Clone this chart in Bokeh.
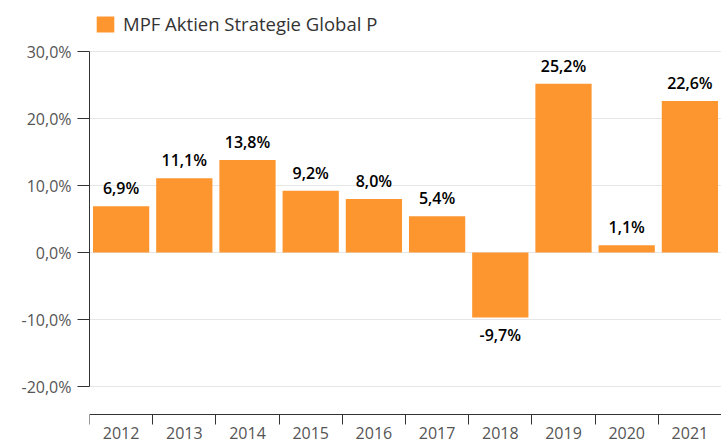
from bokeh.plotting import figure
from bokeh.models import (ColumnDataSource, Range1d, FixedTicker, Legend, LegendItem,
                          CustomJSTickFormatter, LinearAxis)
from bokeh.core.properties import value
from bokeh.embed import file_html
from bokeh.resources import INLINE

# ---- data ----
years = ["2012", "2013", "2014", "2015", "2016", "2017", "2018", "2019", "2020", "2021"]
returns = [6.9, 11.1, 13.8, 9.2, 8.0, 5.4, -9.7, 25.2, 1.1, 22.6]
y_ticks = [-20, -10, 0, 10, 20, 30]
y_tick_labels = ["-20,0%", "-10,0%", "0,0%", "10,0%", "20,0%", "30,0%"]
series_name = "MPF Aktien Strategie Global P"

# ---- derived ----
n = len(years)
centers = [i + 0.5 for i in range(n)]
labels = [f"{v:.1f}%".replace(".", ",") for v in returns]
offsets = [-18 if v >= 0 else 18 for v in returns]
src = ColumnDataSource(dict(x=centers, top=returns, label=labels, off=offsets))

# ---- layout (pixels) ----
W, H = 721, 442
frame_top, frame_bottom = 0, H
axis_px = 414
px_per_unit = 6.7
zero_px = 252
y_end = (zero_px - frame_top) / px_per_unit
y_start = -(frame_bottom - zero_px) / px_per_unit
x_axis_at = -(axis_px - zero_px) / px_per_unit

p = figure(width=W, height=H, x_range=Range1d(0, n), y_range=Range1d(y_start, y_end),
           output_backend="svg", toolbar_location=None, x_axis_location=None,
           min_border_left=89, min_border_right=0, min_border_top=0,
           min_border_bottom=0)
p.outline_line_color = None
p.background_fill_color = "white"
p.border_fill_color = "white"
for g in p.xgrid:
    g.visible = False

bars = p.vbar(x="x", top="top", bottom=0, width=0.89, source=src,
              fill_color="#fe9630", line_color=None)

p.text(x="x", y="top", text="label", source=src, y_offset="off",
       text_align="center", text_baseline="middle",
       text_font=value("'Open Sans SemiBold', 'Open Sans Semibold', 'Open Sans'"),
       text_font_size="16px", text_color="#000000")

# x axis at a fixed location inside the frame, ticks at category boundaries
xa = LinearAxis(fixed_location=x_axis_at)
xa.ticker = FixedTicker(ticks=centers, minor_ticks=list(range(n + 1)))
xa.formatter = CustomJSTickFormatter(args=dict(year_labels=years),
                                     code="return year_labels[Math.floor(tick)];")
xa.major_tick_out = 0
xa.major_tick_in = 0
xa.minor_tick_out = 10
xa.minor_tick_in = 0
xa.minor_tick_line_color = "#333333"
xa.axis_line_color = "#333333"
xa.major_label_standoff = 2
xa.major_label_text_font = "Open Sans"
xa.major_label_text_font_size = "16px"
xa.major_label_text_color = "#555555"
p.add_layout(xa, "below")

# y axis
ya = p.yaxis[0]
ya.ticker = FixedTicker(ticks=y_ticks, minor_ticks=[])
ya.formatter = CustomJSTickFormatter(args=dict(tick_values=y_ticks, tick_texts=y_tick_labels),
                                     code="return tick_texts[tick_values.indexOf(Math.round(tick))];")
ya.bounds = (y_ticks[0], y_ticks[-1])
ya.axis_line_color = "#333333"
ya.major_tick_line_color = "#333333"
ya.major_tick_out = 12
ya.major_tick_in = 0
ya.minor_tick_out = 0
ya.minor_tick_in = 0
ya.major_label_standoff = 6
ya.major_label_text_font = "Open Sans"
ya.major_label_text_font_size = "16px"
ya.major_label_text_color = "#555555"

p.ygrid.ticker = FixedTicker(ticks=y_ticks)
p.ygrid.grid_line_color = "#e6e6e6"

legend = Legend(items=[LegendItem(label=series_name, renderers=[bars])],
                location=(5, frame_bottom - frame_top - 14 - 22),
                orientation="horizontal", padding=0, margin=0, spacing=0,
                glyph_width=22, glyph_height=20, label_standoff=7,
                label_text_font="Open Sans", label_text_font_size="18.5px",
                label_text_color="#333333", label_height=20,
                border_line_color=None, background_fill_alpha=0)
p.add_layout(legend)

open("out.html", "w").write(file_html(p, INLINE))
